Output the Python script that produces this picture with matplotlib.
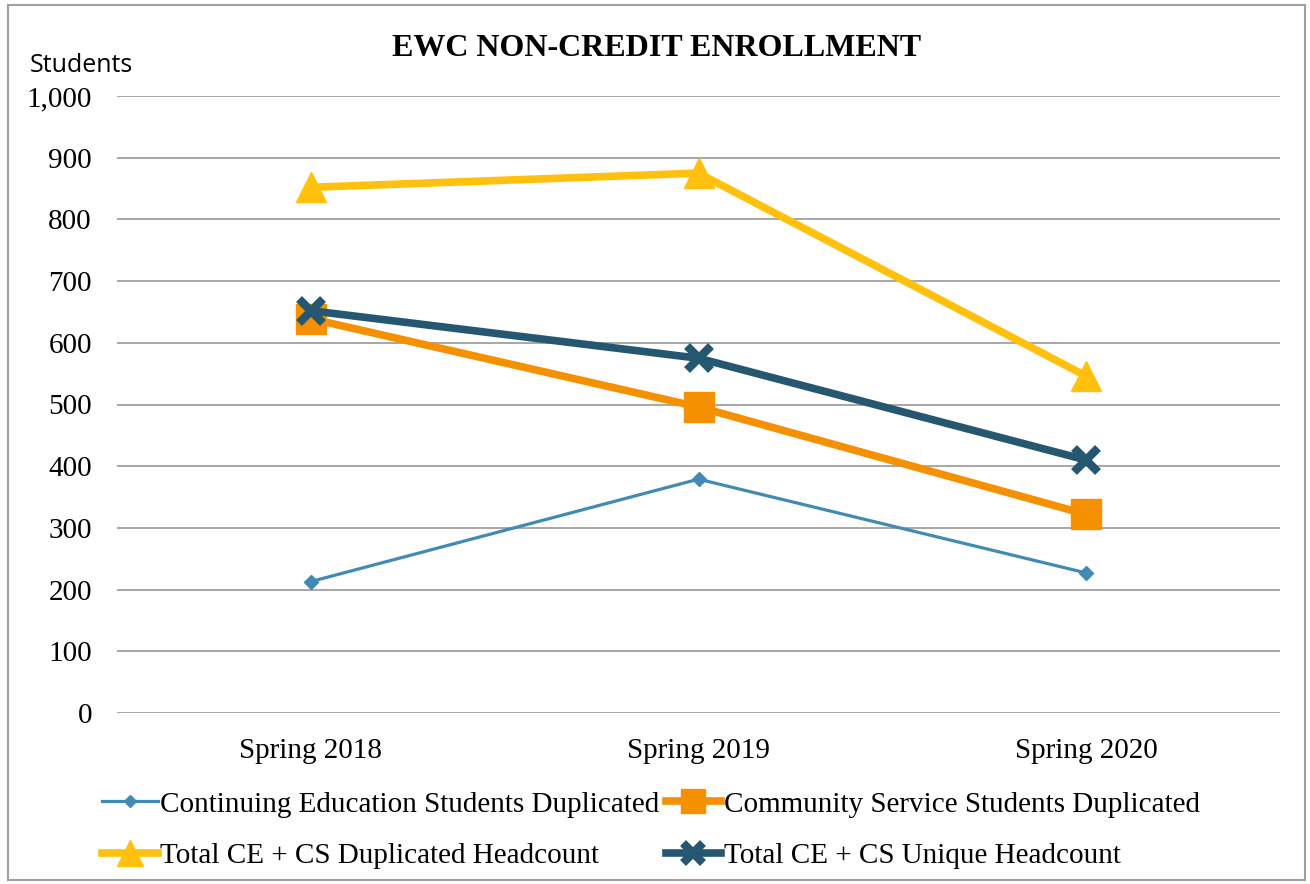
import matplotlib
matplotlib.use("Agg")
import matplotlib.pyplot as plt
from matplotlib.patches import Rectangle

categories = ["Spring 2018", "Spring 2019", "Spring 2020"]
ce_dup = [213, 379, 227]
cs_dup = [639, 496, 322]
total_dup = [852, 875, 546]
unique = [652, 575, 410]
yticks = [0, 100, 200, 300, 400, 500, 600, 700, 800, 900, 1000]
ytick_labels = ["0", "100", "200", "300", "400", "500", "600", "700", "800", "900", "1,000"]

W, H = 1310, 884
fig = plt.figure(figsize=(W / 100, H / 100), dpi=100)
serif = "Liberation Serif"

fig.patches.append(Rectangle((8 / W, 1 - 880 / H), (1305 - 8) / W, (880 - 5) / H,
                             transform=fig.transFigure, fill=False,
                             edgecolor="#A0A0A0", linewidth=1.5))

ax = fig.add_axes([117 / W, 1 - 713 / H, (1280 - 117) / W, (713 - 96) / H])
x = list(range(len(categories)))

h1, = ax.plot(x, ce_dup, color="#418AB3", lw=2.3, marker="D", markersize=7,
              label="Continuing Education Students Duplicated", zorder=3)
h2, = ax.plot(x, cs_dup, color="#F59100", lw=5.5, marker="s", markersize=21,
              label="Community Service Students Duplicated", zorder=3)
h3, = ax.plot(x, total_dup, color="#FFC10E", lw=5.5, marker="^", markersize=22,
              label="Total CE + CS Duplicated Headcount", zorder=3)
h4, = ax.plot(x, unique, color="#255770", lw=5.5, marker="x", markersize=17,
              markeredgewidth=6, label="Total CE + CS Unique Headcount", zorder=4)

ax.set_xlim(-0.5, 2.5)
ax.set_ylim(0, 1000)
ax.set_yticks(yticks)
ax.set_yticklabels(ytick_labels, fontfamily=serif, fontsize=21)
ax.set_xticks(x)
ax.set_xticklabels(categories, fontfamily=serif, fontsize=21)
ax.tick_params(axis="both", length=0)
ax.tick_params(axis="y", pad=18)
ax.tick_params(axis="x", pad=18)
for s in ax.spines.values():
    s.set_visible(False)
ax.grid(axis="y", color="#A0A0A0", lw=1.3)
ax.set_axisbelow(True)

fig.text(657 / W, 1 - 48 / H, "EWC NON-CREDIT ENROLLMENT", ha="center", va="center",
         fontfamily=serif, fontweight="bold", fontsize=23)
fig.text(30 / W, 1 - 65 / H, "Students", ha="left", va="center",
         fontfamily="Open Sans", fontsize=18)

handles = [h1, h3, h2, h4]
leg = fig.legend(handles, [h.get_label() for h in handles],
                 loc="center", bbox_to_anchor=(651 / W, 1 - 830 / H), ncol=2,
                 frameon=False, prop={"family": serif, "size": 21},
                 handlelength=1.9, handletextpad=0.1, columnspacing=0.2,
                 labelspacing=0.85, markerscale=0.85)

fig.savefig("out.png", dpi=100)
